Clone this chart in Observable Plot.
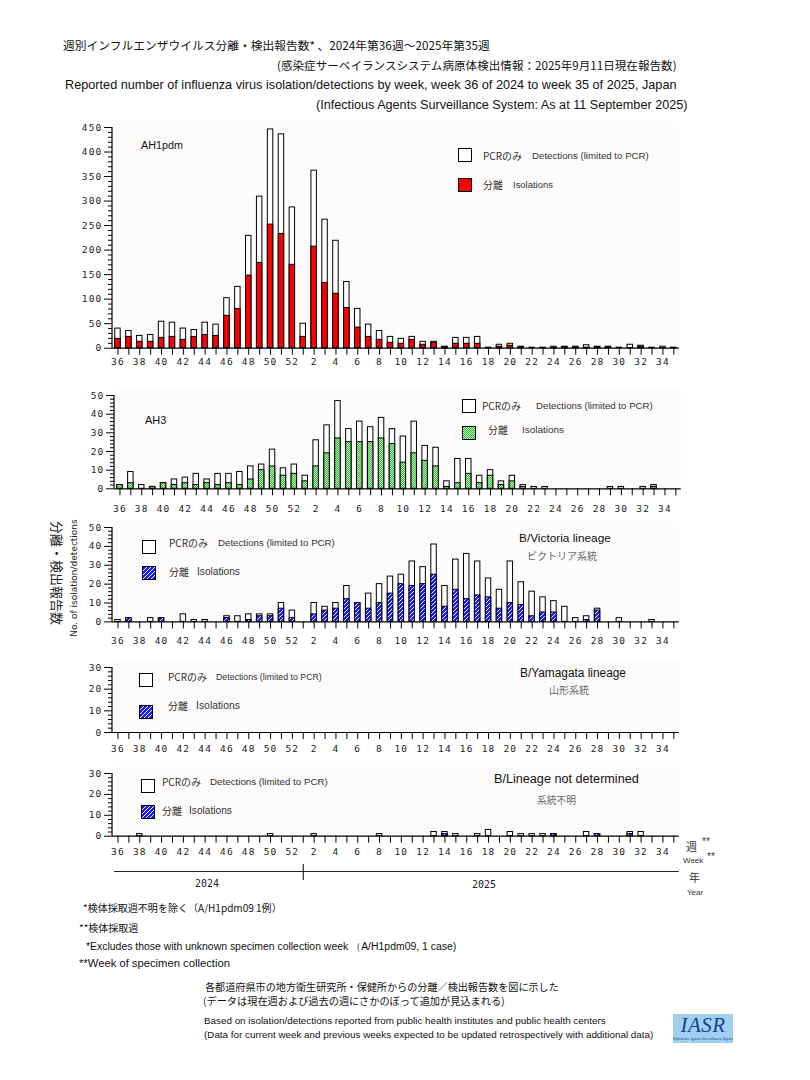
<!DOCTYPE html>
<html><head><meta charset="utf-8">
<script src="https://cdn.jsdelivr.net/npm/d3@7"></script>
<script src="https://cdn.jsdelivr.net/npm/@observablehq/plot@0.6"></script>
<style>
body{margin:0;background:#fff;}
#page{position:relative;width:810px;height:1080px;overflow:hidden;background:#fff;}
.t{position:absolute;white-space:nowrap;line-height:1;transform:translateY(-50%);}
.abs{position:absolute;}
</style></head><body>
<svg width="0" height="0" style="position:absolute;left:0;top:0">
<defs>
<pattern id="bgdots" width="4" height="4" patternUnits="userSpaceOnUse"><rect x="0" y="0" width="1" height="1" fill="#efd9d9"/><rect x="2" y="2" width="1" height="1" fill="#f3e6e6"/></pattern>
<pattern id="checkgreen" width="2" height="2" patternUnits="userSpaceOnUse"><rect width="2" height="2" fill="#bdf0bd"/><rect x="0" y="0" width="1" height="1" fill="#33bb33"/><rect x="1" y="1" width="1" height="1" fill="#33bb33"/></pattern>
<pattern id="hatchblue" width="4" height="4" patternUnits="userSpaceOnUse"><rect width="4" height="4" fill="#1a1aff"/><path d="M-1,1 l2,-2 M0,4 l4,-4 M3,5 l2,-2" stroke="#fff" stroke-width="1"/></pattern>
</defs></svg>
<div id="page"></div>
<script>
// ---------- data ----------
const weeks = [36,37,38,39,40,41,42,43,44,45,46,47,48,49,50,51,52,1,2,3,4,5,6,7,8,9,10,11,12,13,14,15,16,17,18,19,20,21,22,23,24,25,26,27,28,29,30,31,32,33,34,35];

const ah1Total = [40,35,25,27,54,52,40,37,52,48,102,125,229,309,446,436,287,50,362,262,219,135,80,48,35,23,19,23,13,13,3,21,21,23,1,7,9,3,1,1,3,3,3,6,3,3,1,7,5,1,3,1];
const ah1Iso   = [19,23,13,13,21,23,17,23,27,25,66,80,148,174,252,233,170,23,207,133,111,82,42,23,17,11,9,17,7,11,2,9,9,9,0,3,5,2,0,0,1,2,2,1,2,2,0,0,3,0,0,0];

const ah3Total = [2,9,2,1,3,5,6,8,5,8,8,9,12,13,21,11,13,7,26,34,47,32,36,33,38,32,28,36,23,22,4,16,16,7,10,4,7,2,1,1,0,0,0,0,0,1,1,0,1,2,0,0];
const ah3Iso   = [2,3,0,1,3,2,3,2,3,2,3,2,5,10,12,7,8,4,12,19,27,25,25,25,27,24,14,19,15,12,1,3,8,3,7,2,4,1,0,0,0,0,0,0,0,0,0,0,0,1,0,0];

const vicTotal = [1,2,0,2,2,0,4,1,1,0,3,3,4,4,4,10,6,0,10,8,10,19,10,15,20,24,25,32,29,41,19,33,36,32,23,17,32,21,16,13,11,8,2,3,7,0,2,0,0,1,0,0];
const vicIso   = [0,2,0,0,2,0,0,0,0,0,2,0,1,3,3,7,2,0,4,6,7,12,10,7,10,15,20,19,20,25,8,17,12,14,13,7,10,9,3,5,5,0,0,1,6,0,0,0,0,0,0,0];

const yamTotal = [0,0,0,0,0,0,0,0,0,0,0,0,0,0,0,0,0,0,0,0,0,0,0,0,0,0,0,0,0,0,0,0,0,0,0,0,0,0,0,0,0,0,0,0,0,0,0,0,0,0,0,0];
const yamIso   = [0,0,0,0,0,0,0,0,0,0,0,0,0,0,0,0,0,0,0,0,0,0,0,0,0,0,0,0,0,0,0,0,0,0,0,0,0,0,0,0,0,0,0,0,0,0,0,0,0,0,0,0];

const ndTotal  = [0,0,1,0,0,0,0,0,0,0,0,0,0,0,1,0,0,0,1,0,0,0,0,0,1,0,0,0,0,2,2,1,0,1,3,0,2,1,1,1,1,0,0,2,1,0,0,2,2,0,0,0];
const ndIso    = [0,0,0,0,0,0,0,0,0,0,0,0,0,0,0,0,0,0,0,0,0,0,0,0,0,0,0,0,0,0,1,0,0,0,0,0,0,0,0,0,1,0,0,0,1,0,0,1,0,0,0,0];

const ticks450 = [0,50,100,150,200,250,300,350,400,450];
const ticks50 = [0,10,20,30,40,50];
const ticks30 = [0,10,20,30];

// ---------- helpers ----------
const page = document.getElementById("page");
const NS = "http://www.w3.org/2000/svg";
const JP = "'Noto Sans CJK JP', sans-serif";
const EN = "'Liberation Sans', Arial, sans-serif";

function addText(str, x, y, size, font, opts = {}) {
  const d = document.createElement("div");
  d.className = "t";
  d.textContent = str;
  d.style.left = x + "px";
  d.style.top = y + "px";
  d.style.fontFamily = font;
  d.style.fontSize = size + "px";
  d.style.color = opts.color || "#111";
  if (opts.style) Object.assign(d.style, opts.style);
  page.appendChild(d);
  if (opts.x2) {
    const w = d.getBoundingClientRect().width;
    if (w > 0) d.style.fontSize = (size * (opts.x2 - x) / w) + "px";
  }
  return d;
}

function addRotated(str, cx, cy, size, font, deg, opts = {}) {
  const d = document.createElement("div");
  d.style.position = "absolute";
  d.style.whiteSpace = "nowrap";
  d.style.lineHeight = "1";
  d.style.left = cx + "px";
  d.style.top = cy + "px";
  d.style.fontFamily = font;
  d.style.fontSize = size + "px";
  d.style.color = opts.color || "#222";
  d.style.transform = `translate(-50%,-50%) rotate(${deg}deg)`;
  d.textContent = str;
  page.appendChild(d);
  if (opts.len) {
    const w = d.offsetWidth;
    if (w > 0) d.style.fontSize = (size * opts.len / w) + "px";
  }
  return d;
}

function swatch(x, y, fill) {
  const s = document.createElementNS(NS, "svg");
  s.setAttribute("width", 16); s.setAttribute("height", 16);
  s.style.position = "absolute"; s.style.left = (x - 1) + "px"; s.style.top = (y - 1) + "px";
  const r = document.createElementNS(NS, "rect");
  r.setAttribute("x", 1.5); r.setAttribute("y", 1.5); r.setAttribute("width", 13); r.setAttribute("height", 13);
  r.setAttribute("fill", fill); r.setAttribute("stroke", "#000"); r.setAttribute("stroke-width", 1);
  s.appendChild(r);
  page.appendChild(s);
}

const ML = 112, MR = 810 - 678.8;

function panel(cfg) {
  const data = weeks.map((w, i) => ({week: w, total: cfg.total[i], iso: cfg.iso[i]}));
  const mt = 10, mb = 30;
  const h = cfg.y0 - cfg.yTop;
  const minor = d3.range(0, cfg.max + 0.001, cfg.minor).filter(v => !cfg.ticks.includes(v));
  const yLine = (index, scales, values, dims) => {
    const l = document.createElementNS(NS, "line");
    l.setAttribute("x1", dims.marginLeft); l.setAttribute("x2", dims.marginLeft);
    l.setAttribute("y1", scales.y(0)); l.setAttribute("y2", scales.y(cfg.max));
    l.setAttribute("stroke", "#000"); l.setAttribute("stroke-width", 1.2);
    return l;
  };
  const svg = Plot.plot({
    width: 810, height: mt + h + mb,
    marginLeft: ML, marginRight: MR, marginTop: mt, marginBottom: mb,
    x: {domain: weeks, paddingInner: 0.5, paddingOuter: 0.25},
    y: {domain: [0, cfg.max], label: null},
    style: {fontFamily: "'DejaVu Sans Mono', monospace", fontSize: "9.5px", color: "#000", background: "transparent", overflow: "visible"},
    marks: [
      Plot.frame({fill: "url(#bgdots)", stroke: "none", insetTop: -6}),
      Plot.barY(data, {filter: d => d.total > 0, x: "week", y: "total", fill: "white", stroke: "black", strokeWidth: 1}),
      Plot.barY(data, {filter: d => d.iso > 0, x: "week", y: "iso", fill: cfg.fill, stroke: "black", strokeWidth: 1}),
      Plot.ruleY([0], {stroke: "black", strokeWidth: 1.2}),
      yLine,
      Plot.axisY({ticks: cfg.ticks, tickSize: 8, tickPadding: 2, label: null, fill: "#222"}),
      Plot.axisY({ticks: minor, tickSize: 4, tickFormat: () => "", label: null}),
      Plot.axisX({tickSize: 7, tickPadding: cfg.pad, label: null, fill: "#222", tickFormat: d => d % 2 === 0 ? String(d) : ""})
    ]
  });
  svg.style.position = "absolute";
  svg.style.left = (cfg.dx || 0) + "px";
  svg.style.top = (cfg.yTop - mt) + "px";
  svg.style.letterSpacing = "1.2px";
  page.appendChild(svg);
}

// ---------- titles ----------
addText("週別インフルエンザウイルス分離・検出報告数* 、2024年第36週～2025年第35週", 63, 45, 12, JP, {x2: 490});
addText("(感染症サーベイランスシステム病原体検出情報：2025年9月11日現在報告数)", 277, 66, 12, JP, {x2: 677});
addText("Reported number of influenza virus isolation/detections by week, week 36 of 2024 to week 35 of 2025, Japan", 65, 85, 12, EN, {x2: 677});
addText("(Infectious Agents Surveillance System: As at 11 September 2025)", 316, 105, 12, EN, {x2: 688});

// ---------- panels ----------
panel({total: ah1Total, iso: ah1Iso, fill: "#ff0000", max: 450, ticks: ticks450, minor: 10, yTop: 127.3, y0: 348, pad: 3});
panel({total: ah3Total, iso: ah3Iso, fill: "url(#checkgreen)", max: 50, ticks: ticks50, minor: 2, yTop: 395, y0: 488.3, pad: 9, dx: 2});
panel({total: vicTotal, iso: vicIso, fill: "url(#hatchblue)", max: 50, ticks: ticks50, minor: 2, yTop: 527.3, y0: 621.7, pad: 8.5});
panel({total: yamTotal, iso: yamIso, fill: "url(#hatchblue)", max: 30, ticks: ticks30, minor: 2, yTop: 667, y0: 732, pad: 5.5});
panel({total: ndTotal, iso: ndIso, fill: "url(#hatchblue)", max: 30, ticks: ticks30, minor: 2, yTop: 773.3, y0: 836, pad: 5.5});

// ---------- panel labels & legends ----------
addText("AH1pdm", 141, 145, 11, EN, {x2: 183});
swatch(458, 148, "#fff"); swatch(458, 178, "#ff0000");
addText("PCRのみ", 483, 156, 10, JP, {color: "#333"});
addText("Detections (limited to PCR)", 532, 156, 10, EN, {x2: 649, color: "#333"});
addText("分離", 483, 185, 10, JP, {color: "#333"});
addText("Isolations", 513, 185, 10, EN, {x2: 553, color: "#333"});

addText("AH3", 145, 420, 11, EN);
swatch(462, 399, "#fff"); swatch(462, 426, "url(#checkgreen)");
addText("PCRのみ", 482, 406, 10, JP, {color: "#333"});
addText("Detections (limited to PCR)", 536, 406, 10, EN, {x2: 653, color: "#333"});
addText("分離", 488, 430, 10, JP, {color: "#333"});
addText("Isolations", 522, 430, 10, EN, {x2: 564, color: "#333"});

addText("B/Victoria lineage", 519, 539, 11.5, EN, {x2: 611});
addText("ビクトリア系統", 527, 556, 10, JP, {x2: 597, color: "#666"});
swatch(142, 540, "#fff"); swatch(142, 566, "url(#hatchblue)");
addText("PCRのみ", 169, 543, 10, JP, {color: "#333"});
addText("Detections (limited to PCR)", 218, 543, 10, EN, {x2: 335, color: "#333"});
addText("分離", 169, 572, 10, JP, {color: "#333"});
addText("Isolations", 197, 572, 10, EN, {x2: 240, color: "#333"});

addText("B/Yamagata lineage", 520, 674, 11.5, EN, {x2: 626});
addText("山形系統", 549, 690, 10, JP, {x2: 589, color: "#666"});
swatch(139, 673, "#fff"); swatch(139, 705, "url(#hatchblue)");
addText("PCRのみ", 168, 677, 10, JP, {color: "#333"});
addText("Detections (limited to PCR)", 216, 677, 10, EN, {x2: 322, color: "#333"});
addText("分離", 168, 706, 10, JP, {color: "#333"});
addText("Isolations", 196, 706, 10, EN, {x2: 240, color: "#333"});

addText("B/Lineage not determined", 494, 779, 11.5, EN, {x2: 639});
addText("系統不明", 537, 801, 10, JP, {x2: 576, color: "#666"});
swatch(141, 779, "#fff"); swatch(141, 805, "url(#hatchblue)");
addText("PCRのみ", 162, 782, 10, JP, {color: "#333"});
addText("Detections (limited to PCR)", 210, 782, 10, EN, {x2: 328, color: "#333"});
addText("分離", 162, 811, 10, JP, {color: "#333"});
addText("Isolations", 189, 811, 10, EN, {x2: 232, color: "#333"});

// ---------- y-axis titles ----------
addRotated("分離・検出報告数", 57, 573, 10, JP, 90, {len: 104});
addRotated("No. of isolation/detections", 74, 578, 10, "'DejaVu Sans', sans-serif", -90, {len: 118});

// ---------- year axis ----------
{
  const yr = Plot.plot({
    width: 810, height: 16, marginLeft: ML, marginRight: MR, marginTop: 7, marginBottom: 0,
    x: {domain: weeks, paddingInner: 0.5, paddingOuter: 0.25, axis: null},
    y: {domain: [0, 1], axis: null},
    style: {background: "transparent", overflow: "visible"},
    marks: [
      Plot.ruleY([1], {stroke: "#222", strokeWidth: 1.2, insetLeft: 2}),
      Plot.ruleX([1], {x: d => d, stroke: "#000", strokeWidth: 1, insetTop: -7})
    ]
  });
  yr.style.position = "absolute"; yr.style.left = "0px"; yr.style.top = "864px";
  page.appendChild(yr);
}
addText("2024", 195, 884, 10.5, "'DejaVu Sans Mono', monospace", {x2: 219, color: "#222"});
addText("2025", 472, 885, 10.5, "'DejaVu Sans Mono', monospace", {x2: 496, color: "#222"});
addText("週", 686, 846, 11, JP, {color: "#333"});
addText("**", 702, 842, 10, EN, {color: "#333"});
addText("Week", 683, 861, 8, EN, {color: "#333"});
addText("**", 707, 857, 10, EN, {color: "#333"});
addText("年", 689, 877, 11, JP, {color: "#333"});
addText("Year", 687, 893, 8, EN, {color: "#333"});

// ---------- footnotes ----------
addText("*検体採取週不明を除く（A/H1pdm09 1例）", 83, 908, 10, JP, {x2: 282});
addText("**検体採取週", 79, 928, 10, JP);
addText("*Excludes those with unknown specimen collection week （A/H1pdm09, 1 case)", 86, 947, 10, EN, {x2: 457});
addText("**Week of specimen collection", 79, 964, 10, EN, {x2: 230});
addText("各都道府県市の地方衛生研究所・保健所からの分離／検出報告数を図に示した", 205, 987, 10, JP, {x2: 559});
addText("(データは現在週および過去の週にさかのぼって追加が見込まれる)", 203, 1001, 10, JP, {x2: 505});
addText("Based on isolation/detections reported from public health institutes and public health centers", 204, 1021, 9.5, EN, {x2: 606});
addText("(Data for current week and previous weeks expected to be updated retrospectively with additional data)", 204, 1035, 9.5, EN, {x2: 654});

// ---------- IASR logo ----------
{
  const box = document.createElement("div");
  box.className = "abs";
  Object.assign(box.style, {left: "673px", top: "1014px", width: "60px", height: "29px", background: "#9fd0ef", overflow: "hidden"});
  const t = document.createElement("div");
  Object.assign(t.style, {position: "absolute", left: "0", top: "1px", width: "60px", textAlign: "center", fontFamily: "'Liberation Serif', serif", fontStyle: "italic", fontSize: "21px", color: "#1c3f8f", lineHeight: "21px", letterSpacing: "0.5px"});
  t.textContent = "IASR";
  const s = document.createElement("div");
  Object.assign(s.style, {position: "absolute", left: "0", top: "22px", width: "60px", textAlign: "center", fontFamily: "'Liberation Serif', serif", fontStyle: "italic", fontSize: "4px", color: "#1c3f8f", lineHeight: "5px", whiteSpace: "nowrap"});
  s.textContent = "Infectious Agents Surveillance Report";
  box.appendChild(t); box.appendChild(s);
  page.appendChild(box);
}
</script></body></html>
